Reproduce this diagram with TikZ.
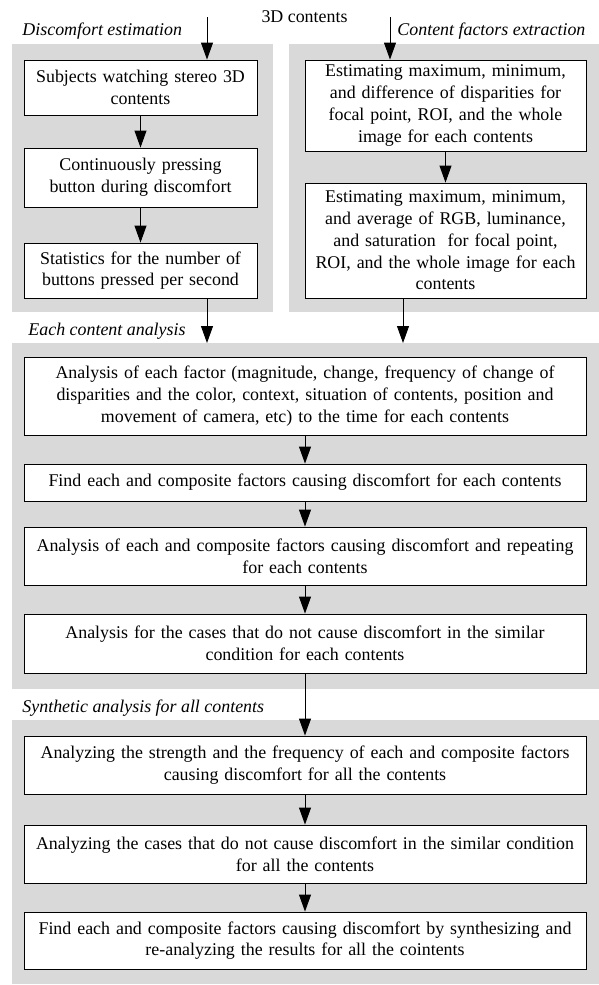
\documentclass[tikz,border=0pt]{standalone}
\usepackage{fontspec}
\setmainfont{Liberation Serif}
\usepackage{xcolor}
\usetikzlibrary{arrows.meta, calc}
\definecolor{panelgray}{RGB}{217,217,217}

\begin{document}
\begin{tikzpicture}[x=1pt, y=-1pt, >={Triangle[length=17pt, width=12pt]}, line width=0.9pt,
  every node/.style={font=\fontsize{17.9}{21.7}\selectfont, inner sep=0pt},
  panel/.style={fill=panelgray, anchor=north west, outer sep=0pt},
  stepbox/.style={draw, fill=white, align=center, inner xsep=4pt},
  grouplabel/.style={font=\fontsize{17.9}{21.7}\selectfont\itshape, anchor=base west}]
  \useasboundingbox (0,0) rectangle (599,985);
  % grey panels
  \node[panel, minimum width=261pt, minimum height=268pt] (panA) at (12,44) {};
  \node[panel, minimum width=310pt, minimum height=268pt] (panB) at (289,44) {};
  \node[panel, minimum width=587pt, minimum height=346pt] (panC) at (12,343) {};
  \node[panel, minimum width=587pt, minimum height=264pt] (panD) at (12,720) {};
  % labels
  \node[anchor=base] (src) at (304.5,23) {3D contents};
  \node[grouplabel] (labA) at (22,35) {Discomfort estimation};
  \node[grouplabel] (labB) at (397,35) {Content factors extraction};
  \node[grouplabel] (labC) at (28,335) {Each content analysis};
  \node[grouplabel] (labD) at (22,712) {Synthetic analysis for all contents};
  % discomfort estimation
  \node[stepbox, text width=225pt, minimum height=55pt] (subj) at (140.5,87.5) {Subjects watching stereo 3D\\contents};
  \node[stepbox, text width=225pt, minimum height=59pt] (press) at (140.5,177.5) {Continuously pressing\\button during discomfort};
  \node[stepbox, text width=225pt, minimum height=55pt] (stats) at (140.5,270.5) {Statistics for the number of\\buttons pressed per second};
  % content factors extraction
  \node[stepbox, text width=273pt, minimum height=91pt] (dispar) at (445.5,105.5) {Estimating maximum, minimum,\\and difference of disparities for\\focal point, ROI, and the whole\\image for each contents};
  \node[stepbox, text width=273pt, minimum height=115pt] (color) at (445.5,240.5) {Estimating maximum, minimum,\\and average of RGB, luminance,\\and saturation\ \ for focal point,\\ROI, and the whole image for each\\contents};
  % each content analysis
  \node[stepbox, text width=554pt, minimum height=78pt] (factor) at (305,396) {Analysis of each factor (magnitude, change, frequency of change of\\disparities and the color, context, situation of contents, position and\\movement of camera, etc) to the time for each contents};
  \node[stepbox, text width=554pt, minimum height=37pt] (find) at (305,482.5) {Find each and composite factors causing discomfort for each contents};
  \node[stepbox, text width=554pt, minimum height=58pt] (repeat) at (305,556) {Analysis of each and composite factors causing discomfort and repeating\\for each contents};
  \node[stepbox, text width=554pt, minimum height=59pt] (nocause) at (305,643.5) {Analysis for the cases that do not cause discomfort in the similar\\condition for each contents};
  % synthetic analysis
  \node[stepbox, text width=554pt, minimum height=58pt] (strength) at (305,765) {Analyzing the strength and the frequency of each and composite factors\\causing discomfort for all the contents};
  \node[stepbox, text width=554pt, minimum height=58pt] (allcase) at (305,854) {Analyzing the cases that do not cause discomfort in the similar condition\\for all the contents};
  \node[stepbox, text width=554pt, minimum height=57pt] (synth) at (305,940.5) {Find each and composite factors causing discomfort by synthesizing and\\re-analyzing the results for all the cointents};
  % arrows
  \coordinate (inL) at (207,17);
  \coordinate (inR) at (390,17);
  \coordinate (outR) at ([xshift=-42.5pt]color.south);
  \draw[->] (inL) -- (inL |- subj.north);
  \draw[->] (inR) -- (inR |- dispar.north);
  \draw[->] (subj) -- (press);
  \draw[->] (press) -- (stats);
  \draw[->] (dispar) -- (color);
  \draw[->] (stats.south -| inL) -- (inL |- panC.north);
  \draw[->] (outR) -- (outR |- panC.north);
  \draw[->] (factor) -- (find);
  \draw[->] (find) -- (repeat);
  \draw[->] (repeat) -- (nocause);
  \draw[->] (nocause) -- (strength);
  \draw[->] (strength) -- (allcase);
  \draw[->] (allcase) -- (synth);
\end{tikzpicture}
\end{document}
